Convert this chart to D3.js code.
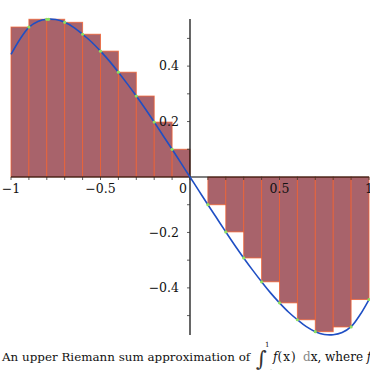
<!DOCTYPE html>
<html>
<head>
<meta charset="utf-8">
<script src="https://cdn.jsdelivr.net/npm/d3@7"></script>
<style>
  body { margin: 0; background: #fff; }
  svg { display: block; font-family: "DejaVu Serif", serif; }
</style>
</head>
<body>
<div id="chart"></div>
<script>
// interval left edges and the upper-sum height on each interval
const binStarts = [-1, -0.9, -0.8, -0.7, -0.6, -0.5, -0.4, -0.3, -0.2, -0.1,
                   0, 0.1, 0.2, 0.3, 0.4, 0.5, 0.6, 0.7, 0.8, 0.9];
const binHeights = [0.541, 0.569, 0.569, 0.558, 0.515, 0.454, 0.378, 0.292, 0.198, 0.100,
                    0, -0.100, -0.198, -0.292, -0.378, -0.454, -0.515, -0.558, -0.541, -0.442];
const binWidth = 0.1;

// curve samples
const curveX = [-1, -0.95, -0.9, -0.85, -0.8, -0.75, -0.7, -0.65, -0.6, -0.55, -0.5,
                -0.45, -0.4, -0.35, -0.3, -0.25, -0.2, -0.15, -0.1, -0.05, 0,
                0.05, 0.1, 0.15, 0.2, 0.25, 0.3, 0.35, 0.4, 0.45, 0.5,
                0.55, 0.6, 0.65, 0.7, 0.75, 0.8, 0.85, 0.9, 0.95, 1];
const curveY = [0.442, 0.497, 0.540, 0.561, 0.569, 0.568, 0.558, 0.540, 0.515, 0.487, 0.454,
                0.418, 0.378, 0.336, 0.292, 0.246, 0.198, 0.149, 0.100, 0.050, 0,
                -0.050, -0.100, -0.149, -0.198, -0.246, -0.292, -0.336, -0.378, -0.418, -0.454,
                -0.487, -0.515, -0.540, -0.558, -0.568, -0.569, -0.561, -0.540, -0.497, -0.442];

// points where the sup on each interval is reached
const supX = [-0.9, -0.8, -0.79, -0.7, -0.6, -0.5, -0.4, -0.3, -0.2, -0.1,
              0.1, 0.2, 0.3, 0.4, 0.5, 0.6, 0.7, 0.9, 1];
const supY = [0.541, 0.569, 0.569, 0.558, 0.515, 0.454, 0.378, 0.292, 0.198, 0.100,
              -0.100, -0.198, -0.292, -0.378, -0.454, -0.515, -0.558, -0.541, -0.442];

const xTicks = [-1, -0.9, -0.8, -0.7, -0.6, -0.5, -0.4, -0.3, -0.2, -0.1, 0,
                0.1, 0.2, 0.3, 0.4, 0.5, 0.6, 0.7, 0.8, 0.9, 1];
const xLabels = [-1, -0.5, 0, 0.5, 1];
const yTicks = [-0.5, -0.4, -0.3, -0.2, -0.1, 0.1, 0.2, 0.3, 0.4, 0.5];
const yLabels = [-0.4, -0.2, 0.2, 0.4];

const width = 370, height = 370;

const x = d3.scaleLinear().domain([-1, 1]).range([11, 369]);
const y = d3.scaleLinear().domain([-0.57, 0.57]).range([335, 19]);

const svg = d3.select("#chart").append("svg")
  .attr("width", width)
  .attr("height", height);

const fmt = v => d3.format("")(v).replace("-", "\u2212");

// rectangles
svg.append("g").selectAll("rect")
  .data(binStarts.map((s, i) => ({s, h: binHeights[i]})))
  .enter().append("rect")
  .attr("x", d => x(d.s))
  .attr("width", d => x(d.s + binWidth) - x(d.s))
  .attr("y", d => Math.min(y(d.h), y(0)))
  .attr("height", d => Math.abs(y(d.h) - y(0)))
  .attr("fill", "#a8636b")
  .attr("stroke", "rgba(240,95,45,0.75)")
  .attr("stroke-width", 1);

// x axis
const xAxis = svg.append("g").attr("transform", `translate(0,${y(0)})`);
xAxis.append("line")
  .attr("x1", x(-1)).attr("x2", x(1))
  .attr("stroke", "#000").attr("stroke-width", 1.2);
xAxis.selectAll(".tick").data(xTicks).enter().append("line")
  .attr("x1", d => x(d)).attr("x2", d => x(d))
  .attr("y1", 0).attr("y2", 3)
  .attr("stroke", "#333").attr("stroke-width", 0.8);
xAxis.selectAll(".lbl").data(xLabels).enter().append("text")
  .attr("x", d => d === 0 ? x(d) - 7 : x(d))
  .attr("y", 16)
  .attr("text-anchor", "middle")
  .attr("font-size", 12.5)
  .attr("fill", "#111")
  .text(fmt);

// y axis
const yAxis = svg.append("g").attr("transform", `translate(${x(0)},0)`);
yAxis.append("line")
  .attr("y1", y(0.57)).attr("y2", y(-0.57))
  .attr("stroke", "#000").attr("stroke-width", 1.2);
yAxis.selectAll(".tick").data(yTicks).enter().append("line")
  .attr("x1", -3).attr("x2", 0)
  .attr("y1", d => y(d)).attr("y2", d => y(d))
  .attr("stroke", "#333").attr("stroke-width", 0.8);
yAxis.selectAll(".lbl").data(yLabels).enter().append("text")
  .attr("x", -11)
  .attr("y", d => y(d))
  .attr("dy", "0.35em")
  .attr("text-anchor", "end")
  .attr("font-size", 12.5)
  .attr("fill", "#111")
  .text(fmt);

// curve
const line = d3.line()
  .x((d, i) => x(curveX[i]))
  .y(d => y(d))
  .curve(d3.curveCatmullRom);
svg.append("path")
  .attr("d", line(curveY))
  .attr("fill", "none")
  .attr("stroke", "#1f4fc4")
  .attr("stroke-width", 1.6);

// sup points
svg.append("g").selectAll("circle")
  .data(supX.map((v, i) => [v, supY[i]]))
  .enter().append("circle")
  .attr("cx", d => x(d[0]))
  .attr("cy", d => y(d[1]))
  .attr("r", 1.6)
  .attr("fill", "#8ee060");

// caption
svg.append("text")
  .attr("x", 2).attr("y", 361)
  .attr("font-size", 11.9)
  .attr("fill", "#111")
  .text("An upper Riemann sum approximation of");

svg.append("text")
  .attr("x", 256).attr("y", 366)
  .attr("font-size", 21)
  .attr("fill", "#333")
  .text("\u222B");
svg.append("text")
  .attr("x", 265).attr("y", 347)
  .attr("font-size", 7).attr("fill", "#111")
  .text("1");
svg.append("text")
  .attr("x", 263).attr("y", 375)
  .attr("font-size", 7).attr("fill", "#111")
  .text("\u22121");

const cap2 = svg.append("text")
  .attr("y", 361)
  .attr("font-size", 12)
  .attr("fill", "#111");
cap2.append("tspan").attr("x", 273).attr("font-style", "italic").text("f");
cap2.append("tspan").attr("letter-spacing", 1).text("(x)");
cap2.append("tspan").attr("x", 303).attr("fill", "#888").text("d");
cap2.append("tspan").text("x, where ");
cap2.append("tspan").attr("font-style", "italic").text("f");
</script>
</body>
</html>
